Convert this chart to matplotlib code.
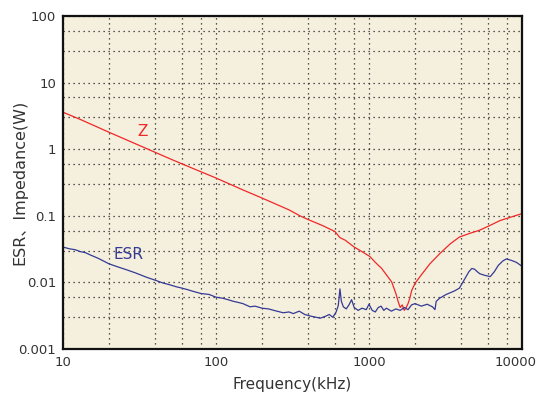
import matplotlib
matplotlib.use("Agg")
import matplotlib.pyplot as plt
import matplotlib.transforms as mtransforms
from matplotlib.ticker import FixedLocator, NullFormatter

# Data (kHz, Ohm)
z_freq = [10, 13, 20, 30, 50, 70, 100, 150, 200, 300, 354, 400, 500, 600, 646, 700, 800, 900,
          1014, 1100, 1211, 1300, 1406, 1500, 1550, 1600, 1650, 1700, 1750, 1800, 1850, 1900,
          2000, 2200, 2500, 2900, 3400, 3900, 4500, 5300, 6200, 7200, 8500, 10000]
z_val = [3.6, 2.8, 1.8, 1.2, 0.72, 0.52, 0.37, 0.245, 0.185, 0.123, 0.10, 0.088, 0.071, 0.058,
         0.047, 0.043, 0.034, 0.029, 0.0245, 0.020, 0.0162, 0.013, 0.0102, 0.0068, 0.0052,
         0.0042, 0.0046, 0.0038, 0.0042, 0.0048, 0.0058, 0.0075, 0.0097, 0.013, 0.019, 0.027,
         0.038, 0.048, 0.054, 0.061, 0.072, 0.085, 0.096, 0.108]

esr_freq = [10, 11, 12, 13, 14, 15, 17, 20, 23, 26, 30, 35, 40, 45, 50, 55, 60, 65, 70, 80, 90,
            100, 110, 120, 130, 140, 150, 167, 180, 200, 220, 250, 275, 300, 320, 350, 380, 420,
            450, 480, 520, 550, 580, 610, 630, 646, 660, 680, 710, 740, 770, 800, 850, 900, 960,
            1000, 1050, 1100, 1150, 1200, 1250, 1300, 1400, 1500, 1600, 1700, 1800, 1900, 2000,
            2200, 2400, 2600, 2700, 2750, 2900, 3200, 3600, 3900, 4200, 4500, 4700, 4900, 5100,
            5300, 5700, 6200, 6600, 7000, 7500, 7900, 8500, 9200, 10000]
esr_val = [0.034, 0.032, 0.031, 0.029, 0.028, 0.026, 0.023, 0.019, 0.017, 0.0155, 0.0138, 0.012,
           0.0108, 0.0098, 0.0092, 0.0086, 0.0082, 0.0078, 0.0074, 0.0068, 0.0066, 0.0060,
           0.0058, 0.0055, 0.0052, 0.0050, 0.0048, 0.0043, 0.0044, 0.0041, 0.0040, 0.0037,
           0.0035, 0.0036, 0.0034, 0.0037, 0.0033, 0.0031, 0.0030, 0.0029, 0.0031, 0.0033,
           0.0030, 0.0036, 0.0045, 0.0080, 0.0052, 0.0043, 0.0040, 0.0046, 0.0055, 0.0042,
           0.0038, 0.0041, 0.0039, 0.0047, 0.0038, 0.0036, 0.0042, 0.0044, 0.0038, 0.0041,
           0.0037, 0.0040, 0.0038, 0.0042, 0.0039, 0.0046, 0.0048, 0.0044, 0.0047, 0.0043,
           0.0039, 0.0052, 0.0058, 0.0066, 0.0074, 0.0082, 0.011, 0.0145, 0.0162, 0.0158,
           0.0145, 0.0135, 0.0128, 0.0122, 0.0145, 0.018, 0.021, 0.0225, 0.0215, 0.020, 0.0175]

x_ticks = [10, 100, 1000, 10000]
x_ticklabels = ["10", "100", "1000", "10000"]
y_ticks = [0.001, 0.01, 0.1, 1, 10, 100]
y_ticklabels = ["0.001", "0.01", "0.1", "1", "10", "100"]

plt.rcParams['font.family'] = ['DejaVu Sans', 'Noto Sans CJK JP']

fig = plt.figure(figsize=(5.37, 3.93), dpi=100)
ax = fig.add_axes([0.1173, 0.112, 0.8547, 0.847])
ax.set_facecolor('#f5efdd')

ax.plot(z_freq, z_val, color='#f02828', lw=0.9)
ax.plot(esr_freq, esr_val, color='#353a96', lw=0.9)

ax.set_xscale('log')
ax.set_yscale('log')
ax.set_xlim(10, 10000)
ax.set_ylim(0.001, 100)

# gridlines: decades + 2,4,6,8 on x; decades + 3,6 on y
xg = []
for d in [10, 100, 1000]:
    xg += [d * m for m in (1, 2, 4, 6, 8)]
yg = []
for d in [0.001, 0.01, 0.1, 1, 10]:
    yg += [d * m for m in (1, 3, 6)]
ax.xaxis.set_major_locator(FixedLocator(x_ticks))
ax.yaxis.set_major_locator(FixedLocator(y_ticks))
ax.set_xticklabels(x_ticklabels)
ax.set_yticklabels(y_ticklabels)
ax.xaxis.set_minor_locator(FixedLocator(xg))
ax.yaxis.set_minor_locator(FixedLocator(yg))
ax.xaxis.set_minor_formatter(NullFormatter())
ax.yaxis.set_minor_formatter(NullFormatter())
ax.grid(True, which='both', color='#222222', linestyle=(0, (1, 3)), lw=0.9)
ax.tick_params(which='both', length=0, labelsize=9.5, labelcolor='#333333', pad=5)

# shift last x label left so it fits
last = ax.get_xticklabels()[-1]
last.set_transform(last.get_transform() + mtransforms.ScaledTranslation(-6 / 100, 0, fig.dpi_scale_trans))

for s in ax.spines.values():
    s.set_linewidth(1.6)
    s.set_color('#111111')

ax.text(33, 1.88, 'Z', color='#f02828', fontsize=11, ha='center', va='center')
ax.text(27, 0.0267, 'ESR', color='#353a96', fontsize=11, ha='center', va='center')

ax.set_xlabel('Frequency(kHz)', fontsize=11, color='#333333', labelpad=6)
ax.set_ylabel('ESR、Impedance(W)', fontsize=11.5, color='#333333')
ax.yaxis.set_label_coords(-0.078, 0.5)

fig.savefig('out.png', dpi=100, facecolor='white')
